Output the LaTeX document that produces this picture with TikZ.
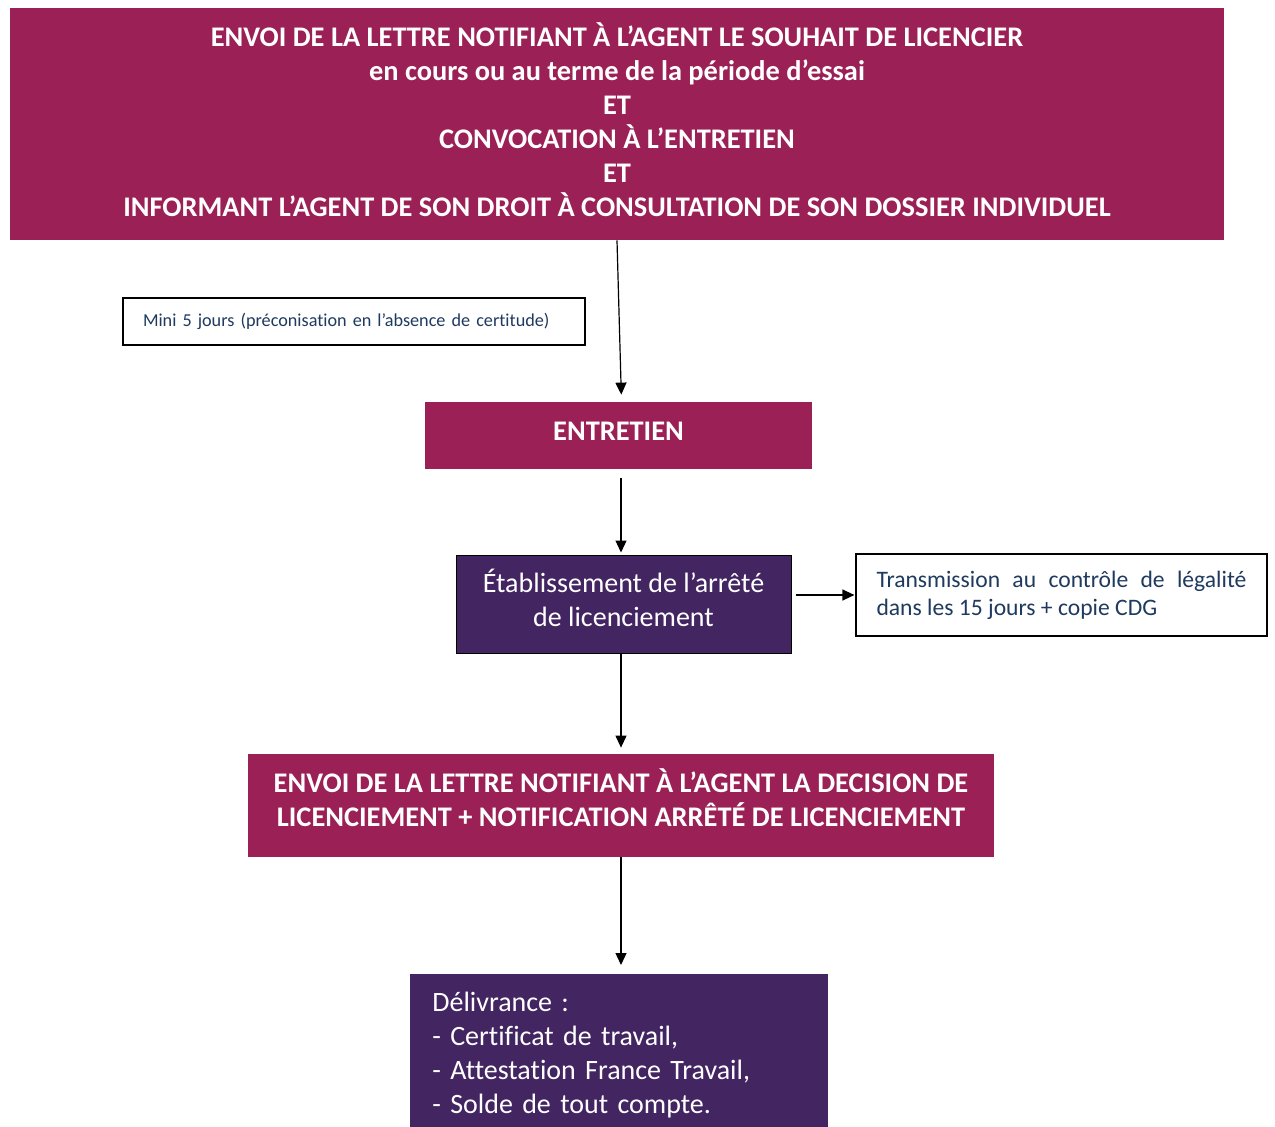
\documentclass[tikz,border=0pt]{standalone}
\usepackage{fontspec}
\setmainfont{Carlito}[Ligatures=NoCommon]
\usetikzlibrary{arrows.meta}
\definecolor{cdgRose}{HTML}{9B2056}
\definecolor{cdgViolet}{HTML}{432562}
\definecolor{cdgBleu}{HTML}{1F3A5F}
\tikzset{
  boiteRose/.style={fill=cdgRose, text=white, align=center, inner sep=0pt,
    font=\fontsize{14.2}{17}\selectfont\bfseries},
  boiteViolet/.style={fill=cdgViolet, text=white, inner sep=0pt,
    font=\fontsize{14}{17}\selectfont},
  boiteNote/.style={draw=black, line width=0.6pt, fill=white, text=cdgBleu, inner sep=0pt},
  fleche/.style={-{Triangle[length=6pt,width=5.5pt]}, line width=0.6pt}
}
\begin{document}
\begin{tikzpicture}[x=0.5pt,y=-0.5pt]
\useasboundingbox (0,0) rectangle (1275,1126);
\node [boiteRose, minimum width=607pt, minimum height=116pt, text depth=4pt] (lettre) at (617,124)%
{
ENVOI DE LA LETTRE NOTIFIANT À L’AGENT LE SOUHAIT DE LICENCIER\\
en cours ou au terme de la période d’essai\\
ET\\
CONVOCATION À L’ENTRETIEN\\
ET\\
INFORMANT L’AGENT DE SON DROIT À CONSULTATION DE SON DOSSIER INDIVIDUEL
};
\node [boiteNote, minimum width=231pt, minimum height=23.5pt, text width=211pt,
  align=left, font=\fontsize{9.1}{11}\selectfont] (delai) at (354,321.5)%
{Mini 5 jours (préconisation en l’absence de certitude)};
\node [boiteRose, minimum width=193.5pt, minimum height=33.5pt, text depth=4pt] (entretien) at (618.5,435.5)%
{ENTRETIEN};
\node [boiteViolet, draw=black, line width=0.5pt, minimum width=167.5pt,
  minimum height=49pt, align=center, text depth=6pt] (arrete) at (623.5,604)%
{Établissement de l’arrêté\\de licenciement};
\node [boiteNote, minimum width=205.5pt, minimum height=41pt, text width=185pt,
  align=justify, font=\fontsize{11.8}{14}\selectfont] (legalite) at (1061.5,595)%
{Transmission au contrôle de légalité dans les 15 jours + copie CDG};
\node [boiteRose, minimum width=373pt, minimum height=51.5pt, text depth=8pt] (decision) at (621,805.5)%
{ENVOI DE LA LETTRE NOTIFIANT À L’AGENT LA DECISION DE\\
LICENCIEMENT + NOTIFICATION ARRÊTÉ DE LICENCIEMENT};
\node [boiteViolet, anchor=north west, minimum width=209pt, text width=187pt,
  inner xsep=11pt, inner ysep=9pt, align=left] (delivrance) at (410,974)%
{Délivrance :\\
- Certificat de travail,\\
- Attestation France Travail,\\
- Solde de tout compte.};
\draw [fleche, shorten >=3.5pt] (lettre.south) -- ([xshift=1.5pt]entretien.north);
\draw [fleche, shorten <=4.5pt, shorten >=1pt] (entretien.south -| decision.north) -- (arrete.north -| decision.north);
\draw [fleche, shorten >=3pt] (arrete.south -| decision.north) -- (decision.north);
\draw [fleche, shorten <=2pt, shorten >=0.5pt] (arrete.east |- legalite.west) -- (legalite.west);
\draw [fleche, shorten >=4.5pt] (decision.south) -- (decision.south |- delivrance.north);
\end{tikzpicture}
\end{document}
